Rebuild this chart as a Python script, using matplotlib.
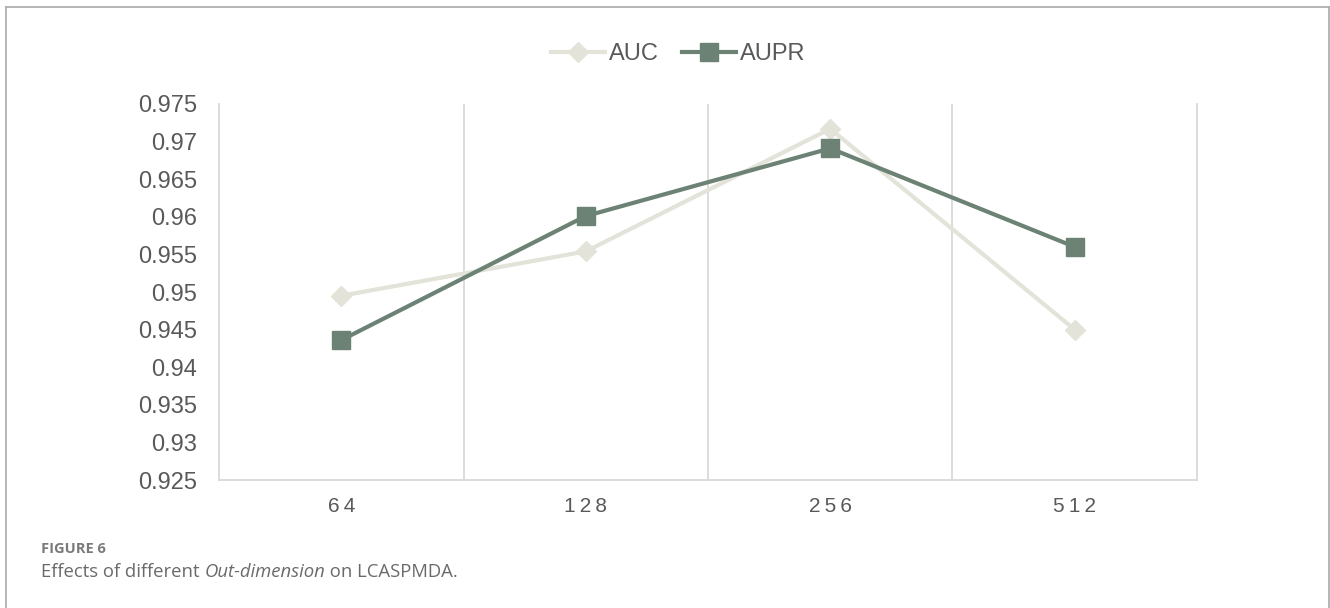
import matplotlib
matplotlib.use("Agg")
import matplotlib.pyplot as plt
from matplotlib.lines import Line2D

plt.rcParams['font.family'] = ['Liberation Sans', 'DejaVu Sans']

# Data
dimensions = ['64', '128', '256', '512']
auc = [0.9495, 0.9554, 0.9717, 0.9450]
aupr = [0.9436, 0.9601, 0.9691, 0.9560]
y_ticks = [0.925, 0.93, 0.935, 0.94, 0.945, 0.95, 0.955, 0.96, 0.965, 0.97, 0.975]

auc_color = '#e3e3d9'
aupr_color = '#6b8274'
grid_color = '#d9d9d9'
text_color = '#595959'

fig = plt.figure(figsize=(13.3, 6.08), dpi=100)
ax = fig.add_axes([219 / 1330, 1 - 480 / 608, (1197 - 219) / 1330, (480 - 104) / 608])

x = list(range(len(dimensions)))
ax.plot(x, auc, color=auc_color, lw=3.0, marker='D', markersize=10,
        markerfacecolor=auc_color, markeredgecolor=auc_color, label='AUC', zorder=3)
ax.plot(x, aupr, color=aupr_color, lw=3.0, marker='s', markersize=12.5,
        markerfacecolor=aupr_color, markeredgecolor=aupr_color, label='AUPR', zorder=4)

ax.set_xlim(-0.5, len(dimensions) - 0.5)
ax.set_ylim(y_ticks[0], y_ticks[-1])
ax.set_yticks(y_ticks)
ax.set_yticklabels([f'{v:g}' for v in y_ticks])
ax.set_xticks(x)
ax.set_xticklabels(['\u2009'.join(d) for d in dimensions])

# Category separators
for b in range(1, len(dimensions)):
    ax.axvline(b - 0.5, color=grid_color, lw=1.3, zorder=1)

for side in ['left', 'right', 'bottom']:
    ax.spines[side].set_color(grid_color)
    ax.spines[side].set_linewidth(1.3)
ax.spines['top'].set_visible(False)

ax.tick_params(axis='both', length=0, labelcolor=text_color)
ax.tick_params(axis='y', labelsize=17, pad=16)
ax.tick_params(axis='x', labelsize=15, pad=12)

fig.legend(loc='center', bbox_to_anchor=(678 / 1330, 1 - 54 / 608), ncol=2,
           frameon=False, fontsize=17, handlelength=2.3, handletextpad=0.15,
           columnspacing=1.0, labelcolor=text_color)

# Outer frame
frame_color = '#b0b0b0'
fig.add_artist(Line2D([6 / 1330, 1329 / 1330], [1 - 7 / 608, 1 - 7 / 608],
                      transform=fig.transFigure, color=frame_color, lw=1.3))
fig.add_artist(Line2D([6 / 1330, 6 / 1330], [0, 1 - 7 / 608],
                      transform=fig.transFigure, color=frame_color, lw=1.3))
fig.add_artist(Line2D([1329 / 1330, 1329 / 1330], [0, 1 - 7 / 608],
                      transform=fig.transFigure, color=frame_color, lw=1.3))

# Caption
cap_font = ['Open Sans', 'DejaVu Sans']
fig.text(41 / 1330, 1 - 549 / 608, 'FIGURE 6', fontsize=10.5, fontweight='bold',
         color='#7a7a7a', va='center', ha='left', family=cap_font)

renderer = fig.canvas.get_renderer()
pieces = [('Effects of different ', 'normal'), ('Out-dimension', 'italic'),
          (' on LCASPMDA.', 'normal')]
x_px = 41
for txt, style in pieces:
    t = fig.text(x_px / 1330, 1 - 572 / 608, txt, fontsize=13.3, style=style,
                 color='#6a6a6a', va='center', ha='left', family=cap_font)
    bb = t.get_window_extent(renderer=renderer)
    x_px = bb.x1

fig.savefig('out.png', dpi=100, facecolor='white')
